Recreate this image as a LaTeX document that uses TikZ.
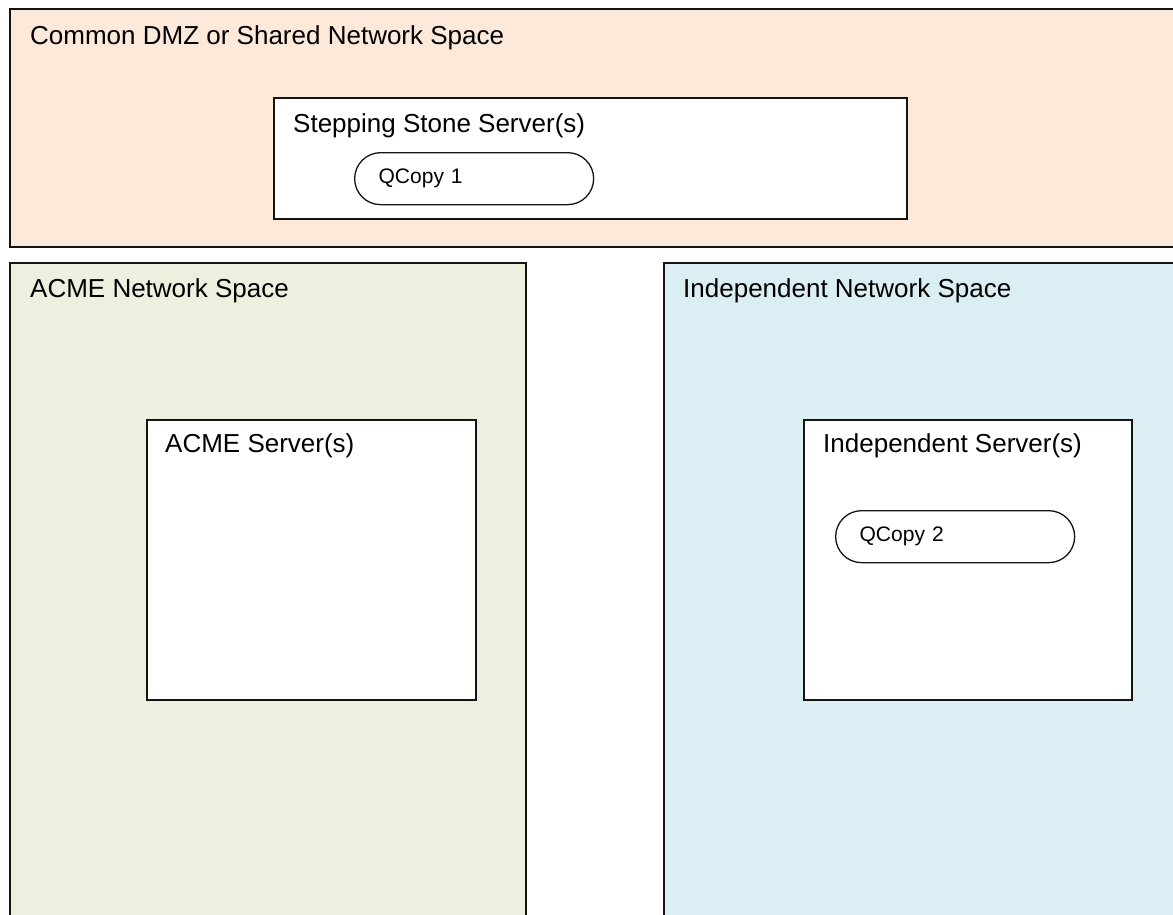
\documentclass[tikz,border=0pt]{standalone}
\usepackage{fontspec}
\setmainfont{Liberation Sans}
\definecolor{dmzfill}{RGB}{253,233,217}
\definecolor{acmefill}{RGB}{235,241,222}
\definecolor{indfill}{RGB}{219,238,243}
\definecolor{edge}{RGB}{20,20,20}
\tikzset{
  zone/.style={draw=edge, line width=1.5pt, anchor=north west, inner sep=0pt},
  srvbox/.style={zone, fill=white},
  pill/.style={draw=edge, line width=1.3pt, fill=white, anchor=north west,
    rounded corners=26pt, minimum width=239pt, minimum height=52pt,
    inner xsep=24pt, inner ysep=0pt, text width=191pt, align=left,
    font=\fontsize{21}{24}\selectfont},
  title/.style={anchor=base west, inner sep=0pt, font=\fontsize{26}{30}\selectfont}
}
\begin{document}
\begin{tikzpicture}[x=1pt, y=-1pt]
  \useasboundingbox (0,0) rectangle (1173,914);
  \clip (0,0) rectangle (1173,914);
  \fill[white] (0,0) rectangle (1173,914);

  % shared DMZ across the top
  \node[zone, fill=dmzfill, minimum width=1176pt, minimum height=238pt] (dmz) at (9,8) {};
  \node[title] (dmzlbl) at ([shift={(21pt,-36pt)}]dmz.north west) {Common DMZ or Shared Network Space};
  \node[srvbox, minimum width=633pt, minimum height=121pt] (step) at (273,97) {};
  \node[title] (steplbl) at ([shift={(20pt,-35pt)}]step.north west) {Stepping Stone Server(s)};
  \node[pill] (q1) at (354,152) {QCopy 1};

  % ACME side
  \node[zone, fill=acmefill, minimum width=516pt, minimum height=668pt] (acme) at (9,262) {};
  \node[title] (acmelbl) at ([shift={(21pt,-35pt)}]acme.north west) {ACME Network Space};
  \node[srvbox, minimum width=329pt, minimum height=280pt] (acmesrv) at (146,419) {};
  \node[title] (acmesrvlbl) at ([shift={(19pt,-33pt)}]acmesrv.north west) {ACME Server(s)};

  % independent side
  \node[zone, fill=indfill, minimum width=522pt, minimum height=668pt] (ind) at (663,262) {};
  \node[title] (indlbl) at ([shift={(20pt,-35pt)}]ind.north west) {Independent Network Space};
  \node[srvbox, minimum width=328pt, minimum height=280pt] (indsrv) at (803,419) {};
  \node[title] (indsrvlbl) at ([shift={(20pt,-33pt)}]indsrv.north west) {Independent Server(s)};
  \node[pill] (q2) at (835,510) {QCopy 2};
\end{tikzpicture}
\end{document}
